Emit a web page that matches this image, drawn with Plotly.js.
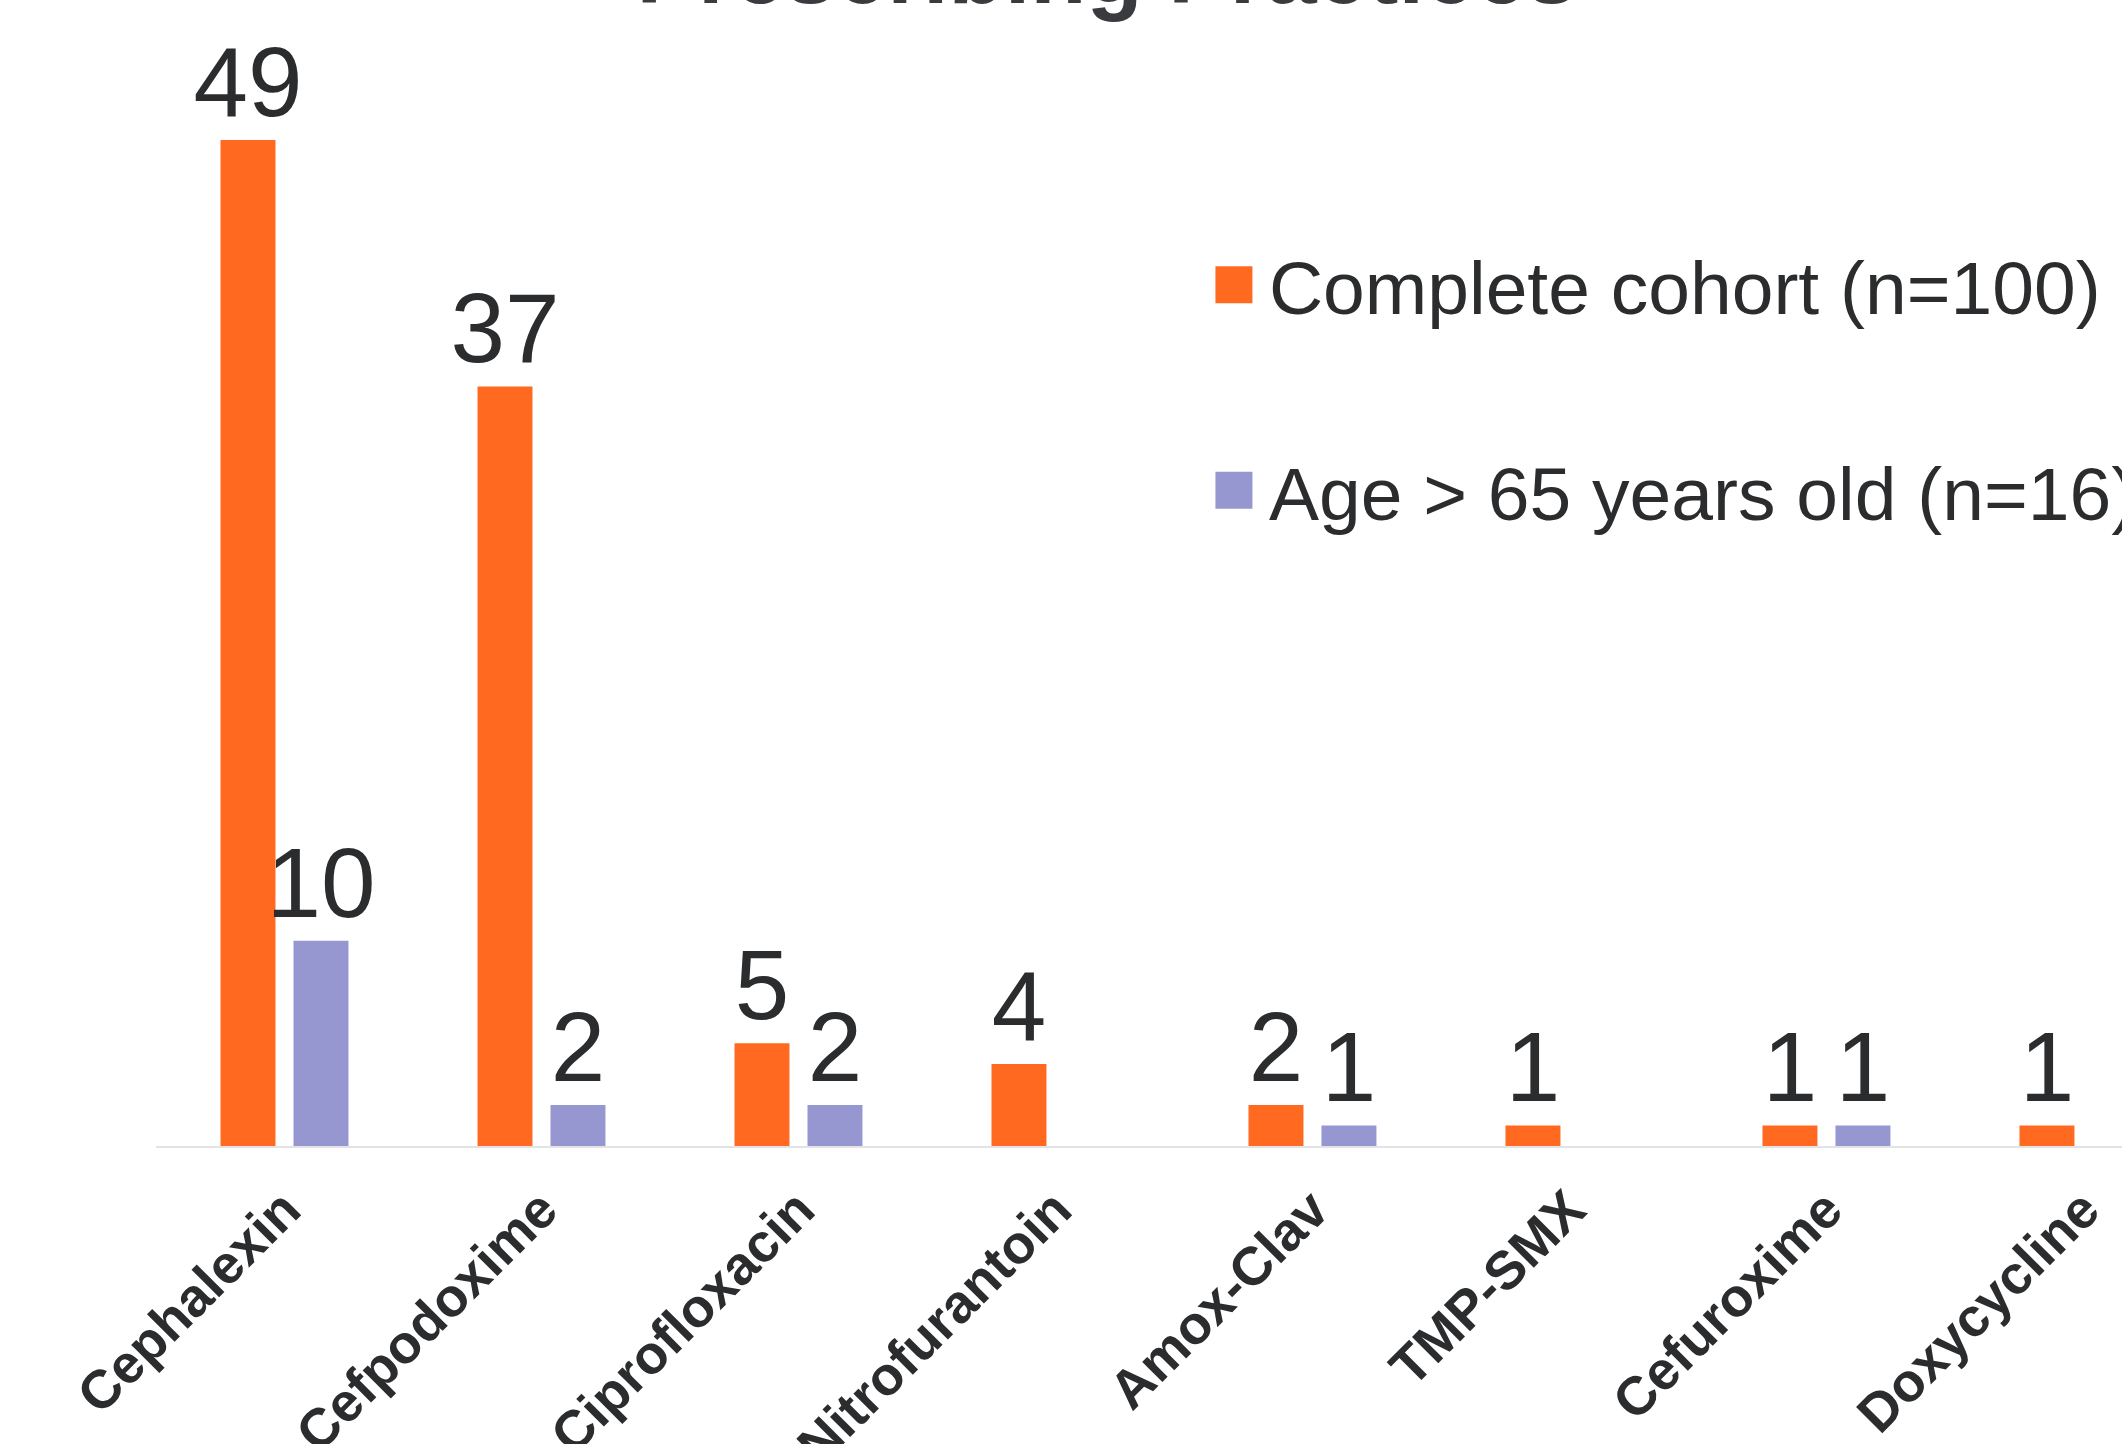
<!DOCTYPE html>
<html>
<head>
<meta charset="utf-8">
<script src="https://cdn.plot.ly/plotly-3.0.1.min.js"></script>
<style>html,body{margin:0;padding:0;background:#fff;}</style>
</head>
<body>
<div id="chart" style="width:2122px;height:1444px;"></div>
<script>
const categories = ["Cephalexin", "Cefpodoxime", "Ciprofloxacin", "Nitrofurantoin", "Amox-Clav", "TMP-SMX", "Cefuroxime", "Doxycycline"];
const completeCohort = [49, 37, 5, 4, 2, 1, 1, 1];
const ageOver65 = [10, 2, 2, null, 1, null, 1, null];
const seriesNames = ["Complete cohort (n=100)", "Age > 65 years old (n=16)"];
const chartTitle = "Prescribing Practices";

const textColor = "#2b2c2e";
const font = "Liberation Sans, Arial, sans-serif";

const common = {
  type: "bar",
  x: categories,
  textposition: "outside",
  texttemplate: "%{y}",
  textfont: {family: font, size: 98, color: textColor},
  constraintext: "none",
  cliponaxis: false,
  hoverinfo: "skip"
};

const traces = [
  Object.assign({}, common, {
    name: seriesNames[0], y: completeCohort, legendgroup: "a",
    marker: {color: "#FF6A20"}
  }),
  Object.assign({}, common, {
    name: seriesNames[1], y: ageOver65, legendgroup: "b",
    marker: {color: "#9696D0"}
  })
];

const layout = {
  width: 2122, height: 1444,
  margin: {l: 156, r: 0, t: 0, b: 298, pad: 0, autoexpand: false},
  paper_bgcolor: "#ffffff", plot_bgcolor: "#ffffff",
  barmode: "group", bargap: 0.432, bargroupgap: 0.247,
  title: {
    text: chartTitle,
    font: {family: font, size: 92, color: "#3a3b3e", weight: "bold"},
    x: 0.5217, xanchor: "center", xref: "container",
    y: 0.998, yanchor: "bottom", yref: "container"
  },
  showlegend: true,
  legend: {
    xref: "container", yref: "container",
    x: 0.565, xanchor: "left", y: 0.841, yanchor: "top",
    font: {family: font, size: 75, color: textColor},
    itemwidth: 60,
    tracegroupgap: 105, bgcolor: "rgba(0,0,0,0)", borderwidth: 0,
    traceorder: "grouped"
  },
  xaxis: {
    type: "category",
    range: [-0.5, 7.15],
    showline: true, linecolor: "#e1e3e4", linewidth: 2,
    showgrid: false, zeroline: false,
    ticks: "", tickangle: -45,
    ticklabelstandoff: 8,
    tickfont: {family: font, size: 54, color: textColor, weight: "bold"},
    automargin: false,
    fixedrange: true
  },
  yaxis: {
    range: [0, 55.82],
    visible: false, showgrid: false, zeroline: false, fixedrange: true
  }
};

Plotly.newPlot("chart", traces, layout, {staticPlot: true, displayModeBar: false}).then(function () {
  document.querySelectorAll(".legend .legendpoints path").forEach(function (p) {
    p.setAttribute("d", "M18.5,18.5H-18.5V-18.5H18.5Z");
  });
});
</script>
</body>
</html>
